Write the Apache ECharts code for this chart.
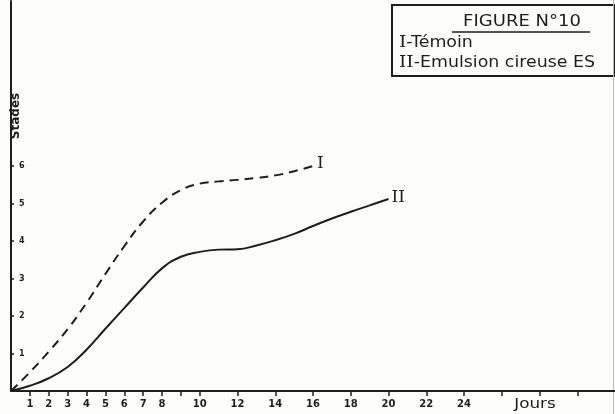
<!DOCTYPE html>
<html>
<head>
<meta charset="utf-8">
<script src="https://cdn.jsdelivr.net/npm/echarts@6/dist/echarts.min.js"></script>
<style>
  html, body { margin: 0; padding: 0; background: #fdfdfc; }
  #chart { width: 615px; height: 414px; }
</style>
</head>
<body>
<div id="chart"></div>
<script>
// Development stages (stades) over days (jours)
const days = [0, 1, 2, 3, 4, 5, 6, 7, 8, 9, 10, 11, 12, 13, 14, 15, 16, 17, 18, 19, 20];
const temoin = [0, 0.5, 1.05, 1.65, 2.35, 3.12, 3.86, 4.52, 5.02, 5.36, 5.53, 5.59, 5.63, 5.68, 5.75, 5.86, 6.0];
const emulsion = [0, 0.14, 0.34, 0.64, 1.1, 1.66, 2.21, 2.76, 3.27, 3.58, 3.71, 3.77, 3.78, 3.88, 4.02, 4.19, 4.4, 4.6, 4.78, 4.95, 5.12];
const xTickDays = [1, 2, 3, 4, 5, 6, 7, 8, 9, 10, 12, 14, 16, 18, 20, 22, 24, 26, 28, 30];
const xLabelDays = [1, 2, 3, 4, 5, 6, 7, 8, 10, 12, 14, 16, 18, 20, 22, 24];
const yLabelStades = [1, 2, 3, 4, 5, 6];
const figureTitle = 'FIGURE N°10';
const legendLines = [['I', 'Témoin'], ['II', 'Emulsion cireuse ES']];

const ink = '#1e1e1e';
const chart = echarts.init(document.getElementById('chart'));

const pairs = vals => vals.map((v, i) => [days[i], v]);

chart.setOption({
  animation: false,
  backgroundColor: '#fdfdfc',
  grid: { left: 11, right: 0, top: 1, bottom: 23, containLabel: false },
  xAxis: {
    type: 'value', min: 0, max: 32, interval: 1,
    axisLine: { show: true, lineStyle: { color: ink, width: 2 } },
    axisTick: { show: true, customValues: xTickDays, length: 5, inside: false,
      lineStyle: { color: ink, width: 1.5 } },
    axisLabel: { customValues: xLabelDays, color: ink, fontSize: 10, fontWeight: 'bold',
      fontFamily: 'DejaVu Sans', margin: 8 },
    splitLine: { show: false }
  },
  yAxis: {
    type: 'value', min: 0, max: 10.4, interval: 1,
    axisLine: { show: true, lineStyle: { color: ink, width: 2 } },
    axisTick: { show: true, customValues: yLabelStades, inside: true, length: 3,
      lineStyle: { color: ink, width: 1.5 } },
    axisLabel: { customValues: yLabelStades, inside: true, margin: 8, color: ink,
      fontSize: 8, fontWeight: 'bold', fontFamily: 'DejaVu Sans' },
    splitLine: { show: false }
  },
  series: [
    {
      name: 'I', type: 'line', data: pairs(temoin), smooth: 0.45, symbol: 'none',
      lineStyle: { color: ink, width: 2, type: [9, 6] },
      endLabel: { show: true, formatter: 'I', color: ink, fontSize: 17,
        fontFamily: 'DejaVu Serif', distance: 4, offset: [0, -2] }
    },
    {
      name: 'II', type: 'line', data: pairs(emulsion), smooth: 0.45, symbol: 'none',
      lineStyle: { color: ink, width: 2 },
      endLabel: { show: true, formatter: 'II', color: ink, fontSize: 17,
        fontFamily: 'DejaVu Serif', distance: 3, offset: [0, -1] }
    }
  ],
  graphic: [
    // axis names
    { type: 'text', x: 535, y: 404, scaleX: 1.2,
      style: { text: 'Jours', fill: ink, font: '14px "DejaVu Sans"',
        textAlign: 'center', textVerticalAlign: 'middle' } },
    { type: 'text', x: 16, y: 116, rotation: Math.PI / 2,
      style: { text: 'Stades', fill: ink, font: 'bold 12px "DejaVu Sans"',
        textAlign: 'center', textVerticalAlign: 'middle' } },
    // caption box
    { type: 'rect', shape: { x: 392, y: 5, width: 222, height: 71 },
      style: { fill: '#fdfdfc', stroke: ink, lineWidth: 2 } },
    { type: 'text', x: 522, y: 22, scaleX: 1.2,
      style: { text: figureTitle, fill: ink, font: '15px "DejaVu Sans"',
        textAlign: 'center', textVerticalAlign: 'middle' } },
    { type: 'line', shape: { x1: 452, y1: 32, x2: 590, y2: 32 },
      style: { stroke: ink, lineWidth: 1.5 } },
    ...legendLines.map((l, i) => ({
      type: 'text', x: 399, y: 43 + i * 20, scaleX: 1.16,
      style: {
        text: '{r|' + l[0] + '}-' + l[1],
        fill: ink, font: '15px "DejaVu Sans"', textVerticalAlign: 'middle',
        rich: { r: { fontFamily: 'DejaVu Serif', fontSize: 16, fill: ink } }
      }
    })),
    // page edge
    { type: 'line', shape: { x1: 613.5, y1: 0, x2: 613.5, y2: 414 },
      style: { stroke: '#bbbbbb', lineWidth: 1 } }
  ]
});
</script>
</body>
</html>
